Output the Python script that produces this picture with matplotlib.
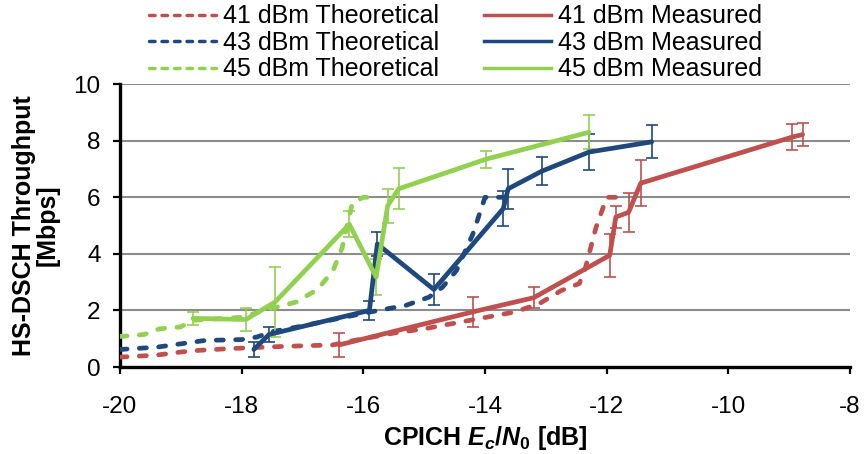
import matplotlib
matplotlib.use("Agg")
import matplotlib.pyplot as plt
from matplotlib.lines import Line2D

plt.rcParams['font.family'] = ['Liberation Sans', 'DejaVu Sans']
plt.rcParams['mathtext.fontset'] = 'custom'
plt.rcParams['mathtext.it'] = 'Liberation Sans:italic:bold'
plt.rcParams['mathtext.rm'] = 'Liberation Sans:bold'
plt.rcParams['mathtext.bf'] = 'Liberation Sans:bold'

# ---- data ----
t41_x = [-20, -19.4, -19.0, -18.7, -18.2, -17.3, -16.5, -16.3, -16.0, -15.5, -15.0, -14.5,
         -14.0, -13.5, -13.1, -12.75, -12.45, -12.35, -12.18, -12.0, -11.68]
t41_y = [0.35, 0.42, 0.53, 0.59, 0.65, 0.73, 0.78, 0.88, 1.0, 1.2, 1.35, 1.55,
         1.75, 1.95, 2.25, 2.7, 2.95, 3.5, 4.9, 6.0, 6.0]

t43_x = [-20, -19.4, -18.6, -18.0, -17.75, -17.5, -17.0, -16.4, -15.9, -15.3, -14.92,
         -14.7, -14.47, -14.2, -14.0, -13.7]
t43_y = [0.62, 0.7, 0.94, 0.97, 1.06, 1.25, 1.45, 1.72, 1.94, 2.18, 2.47,
         2.82, 3.41, 4.7, 6.0, 6.0]

t45_x = [-20, -19.6, -19.35, -19.0, -18.8, -18.0, -17.5, -17.1, -16.75, -16.5, -16.35,
         -16.18, -16.0, -15.8]
t45_y = [1.08, 1.15, 1.35, 1.42, 1.65, 1.76, 2.08, 2.3, 2.75, 3.4, 4.2,
         5.8, 6.0, 6.0]

m41_x = [-16.4, -14.2, -13.2, -11.95, -11.85, -11.64, -11.44, -8.95, -8.78]
m41_y = [0.78, 1.95, 2.45, 3.95, 5.3, 5.47, 6.5, 8.13, 8.22]
m41_e = [0.42, 0.53, 0.38, 0.75, 0.38, 0.7, 0.82, 0.47, 0.42]

m43_x = [-17.8, -17.55, -15.9, -15.77, -14.84, -13.7, -13.62, -13.07, -12.29, -11.26]
m43_y = [0.62, 1.15, 2.0, 4.35, 2.74, 5.6, 6.3, 6.92, 7.6, 7.96]
m43_e = [0.28, 0.27, 0.35, 0.42, 0.55, 0.63, 0.7, 0.5, 0.65, 0.58]

m45_x = [-18.8, -17.93, -17.45, -16.23, -15.79, -15.6, -15.42, -13.98, -12.29]
m45_y = [1.72, 1.68, 2.3, 5.05, 3.18, 5.7, 6.3, 7.35, 8.3]
m45_e = [0.23, 0.4, 1.25, 0.45, 0.65, 0.6, 0.72, 0.3, 0.6]

labels_theo = ['41 dBm Theoretical', '43 dBm Theoretical', '45 dBm Theoretical']
labels_meas = ['41 dBm Measured', '43 dBm Measured', '45 dBm Measured']
x_ticks = [-20, -18, -16, -14, -12, -10, -8]
y_ticks = [0, 2, 4, 6, 8, 10]

colors = ['#C0504D', '#1F497D', '#92D050']

fig = plt.figure(figsize=(8.65, 4.54), dpi=100)
ax = fig.add_axes([0.1387, 0.1916, 0.844, 0.623])

lw = 3.4
theo = [(t41_x, t41_y), (t43_x, t43_y), (t45_x, t45_y)]
meas = [(m41_x, m41_y, m41_e), (m43_x, m43_y, m43_e), (m45_x, m45_y, m45_e)]

for (x, y), c in zip(theo, colors):
    ax.plot(x, y, color=c, lw=lw, linestyle=(0, (1.5, 2.6)), dash_capstyle='round',
            solid_capstyle='round', zorder=3)
for (x, y, e), c in zip(meas, colors):
    ax.errorbar(x, y, yerr=e, color=c, lw=lw, elinewidth=1.2, capsize=4.5, capthick=1.2,
                solid_capstyle='round', solid_joinstyle='round', zorder=4)

ax.set_xlim(-20, -8)
ax.set_ylim(0, 10)
ax.set_xticks(x_ticks)
ax.set_yticks(y_ticks)
ax.set_xticklabels([str(v) for v in x_ticks])
ax.set_yticklabels([str(v) for v in y_ticks])
ax.yaxis.grid(True, color='#8C8C8C', lw=1.5, zorder=0)
ax.set_axisbelow(True)
for s in ['top', 'right']:
    ax.spines[s].set_visible(False)
for s in ['left', 'bottom']:
    ax.spines[s].set_linewidth(2.4)
ax.tick_params(axis='both', which='major', labelsize=17.5, width=1.6, length=5, direction='out')
ax.tick_params(axis='x', pad=16)
ax.tick_params(axis='y', pad=9)

ax.set_xlabel(r'CPICH $E_c/N_0$ [dB]', fontsize=18, fontweight='bold', labelpad=4)
ax.set_ylabel('HS-DSCH Throughput\n[Mbps]', fontsize=18, fontweight='bold', labelpad=10,
              linespacing=1.0)

handles = [Line2D([], [], color=c, lw=2.5, linestyle=(0, (1.6, 2.0)), dash_capstyle='round')
           for c in colors]
handles += [Line2D([], [], color=c, lw=2.5) for c in colors]
fig.legend(handles, labels_theo + labels_meas, ncol=2, loc='upper center',
           bbox_to_anchor=(0.527, 1.04), frameon=False, fontsize=18, labelspacing=0.1,
           handlelength=2.65, handletextpad=0.3, columnspacing=1.8)

fig.savefig('out.png', dpi=100)
